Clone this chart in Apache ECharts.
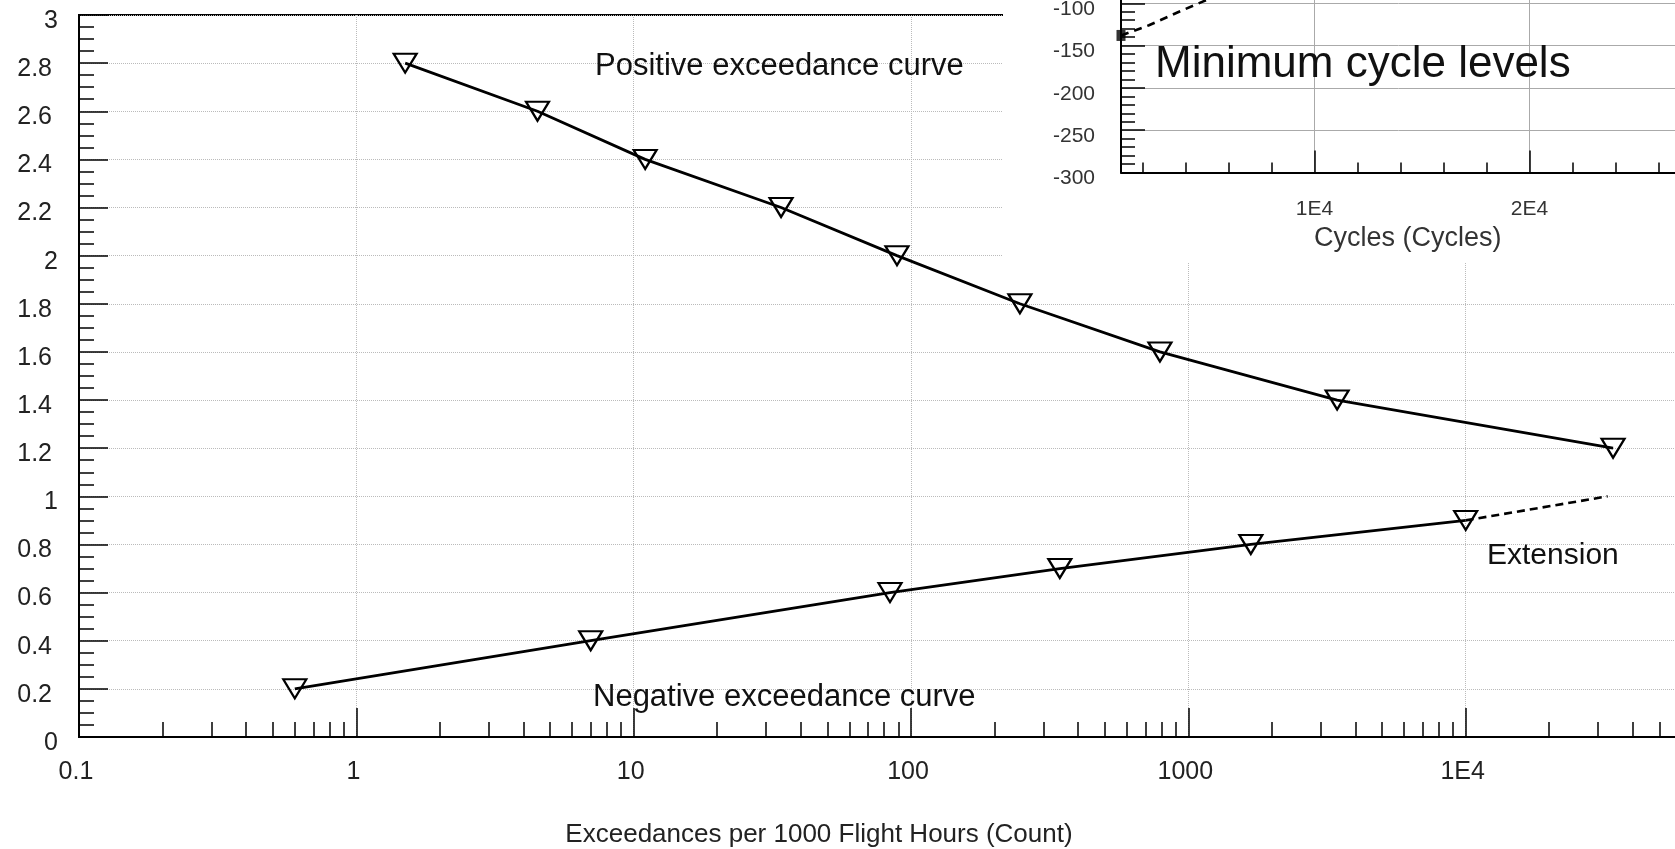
<!DOCTYPE html>
<html><head><meta charset="utf-8">
<script src="https://cdn.jsdelivr.net/npm/echarts@6/dist/echarts.min.js"></script>
<style>html,body{margin:0;padding:0;background:#fff}#c{width:1675px;height:849px}</style>
</head><body><div id="c"></div>
<script>
// ---- data ----
const positiveX = [1.5, 4.5, 11, 34, 89, 247, 790, 3440, 34000];
const positiveY = [2.8, 2.6, 2.4, 2.2, 2.0, 1.8, 1.6, 1.4, 1.2];
const negativeX = [0.6, 7, 84, 344, 1680, 10000];
const negativeY = [0.2, 0.4, 0.6, 0.7, 0.8, 0.9];
const extensionX = [10000, 32500];
const extensionY = [0.9, 1.0];
const insetX = [1000, 2300, 3700, 4800, 6000];
const insetY = [-138, -126, -110, -98, -85];
// ---- tick labels / tick positions ----
const xTickLabels = {'-1':'0.1','0':'1','1':'10','2':'100','3':'1000','4':'1E4','5':'1E5'};
const minorMantissas = [2,3,4,5,6,7,8,9];
const decades = [0.1,1,10,100,1000,10000];
const insetMajorTicks = [10000, 20000];
const insetMinorTicks = [2000,4000,6000,8000,12000,14000,16000,18000,22000,24000,26000,28000];
const insetTickLabels = {10000:'1E4', 20000:'2E4'};

const minorTickValues = [];
decades.forEach(d => minorMantissas.forEach(m => minorTickValues.push(+(d*m).toPrecision(6))));
const zip = (a, b) => a.map((v, i) => [v, b[i]]);
const FONT = "'Liberation Sans', Arial, sans-serif";
const isInt = v => Math.abs(v - Math.round(v)) < 1e-9;
const fmtY = v => String(+v.toFixed(1));

const chart = echarts.init(document.getElementById('c'), null, {renderer:'canvas'});
const hollowTri = {
  symbol: 'triangle', symbolRotate: 180, symbolSize: [23, 19],
  itemStyle: {color: 'rgba(0,0,0,0)', borderColor: '#000', borderWidth: 2.2},
  lineStyle: {color: '#000', width: 2.8}
};
const yLabelBase = {fontSize: 25, color: '#222', fontFamily: FONT, verticalAlign: 'top', lineHeight: 12};
chart.setOption({
  animation: false,
  backgroundColor: '#fff',
  grid: [
    {left: 79, top: 15, width: 1664, height: 722, show: true, borderColor: '#000', borderWidth: 2,
     backgroundColor: 'rgba(0,0,0,0)', containLabel: false, outerBoundsMode: 'none'},
    {left: 1121, top: -39, width: 623.5, height: 211.5, zlevel: 1, containLabel: false, outerBoundsMode: 'none'}
  ],
  xAxis: [
    {type: 'log', logBase: 10, gridIndex: 0, min: 0.1, max: 100000, position: 'bottom',
     axisLine: {show: true, lineStyle: {color: '#000', width: 2}},
     axisTick: {show: true, inside: true, length: 29, lineStyle: {color: '#000', width: 1.5}},
     minorTick: {show: false},
     axisLabel: {show: true, margin: 23, fontSize: 25, color: '#222', fontFamily: FONT, padding: [0, 6, 0, 0],
       formatter: v => xTickLabels[String(Math.round(Math.log10(v)))] || ''},
     splitLine: {show: true, lineStyle: {color: '#bbb', type: 'dotted', width: 1}},
     name: 'Exceedances per 1000 Flight Hours (Count)', nameLocation: 'middle', nameGap: 85,
     nameTextStyle: {fontSize: 26, color: '#222', fontFamily: FONT, padding: [0, 184, 0, 0]}},
    {type: 'log', logBase: 10, gridIndex: 0, min: 0.1, max: 100000, position: 'bottom', offset: 0,
     axisLine: {show: false},
     axisTick: {show: true, inside: true, length: 15, customValues: minorTickValues, lineStyle: {color: '#000', width: 1.5}},
     axisLabel: {show: false}, splitLine: {show: false}},
    {type: 'value', gridIndex: 1, min: 1000, max: 30000, position: 'bottom', zlevel: 1, z: 2,
     axisLine: {show: true, lineStyle: {color: '#000', width: 2}},
     axisTick: {show: true, inside: true, length: 22, customValues: insetMajorTicks, lineStyle: {color: '#000', width: 1.5}},
     axisLabel: {show: true, customValues: insetMajorTicks, margin: 26, fontSize: 21, color: '#333', fontFamily: FONT,
       formatter: v => insetTickLabels[v] || ''},
     splitLine: {show: true, lineStyle: {color: '#aaa', width: 1}},
     name: 'Cycles (Cycles)', nameLocation: 'middle', nameGap: 53,
     nameTextStyle: {fontSize: 27, color: '#333', fontFamily: FONT, padding: [0, 50, 0, 0]}},
    {type: 'value', gridIndex: 1, min: 1000, max: 30000, position: 'bottom', offset: 0, zlevel: 1, z: 2,
     axisLine: {show: false},
     axisTick: {show: true, inside: true, length: 10, customValues: insetMinorTicks, lineStyle: {color: '#000', width: 1.5}},
     axisLabel: {show: false}, splitLine: {show: false}}
  ],
  yAxis: [
    {type: 'value', gridIndex: 0, min: 0, max: 3, interval: 0.2, position: 'left',
     axisLine: {show: true, lineStyle: {color: '#000', width: 2}},
     axisTick: {show: true, inside: true, length: 29, lineStyle: {color: '#000', width: 1.5}},
     minorTick: {show: true, splitNumber: 4, length: 15, lineStyle: {color: '#000', width: 1.5}},
     axisLabel: Object.assign({margin: 27, formatter: v => isInt(v) ? '' : fmtY(v)}, yLabelBase),
     splitLine: {show: true, lineStyle: {color: '#bbb', type: 'dotted', width: 1}}},
    {type: 'value', gridIndex: 1, min: -300, max: -50, interval: 50, zlevel: 1, z: 2, position: 'left',
     axisLine: {show: true, lineStyle: {color: '#000', width: 2}},
     axisTick: {show: true, inside: true, length: 24, lineStyle: {color: '#000', width: 1.5}},
     minorTick: {show: true, splitNumber: 5, length: 14, lineStyle: {color: '#000', width: 1.5}},
     axisLabel: {margin: 26, fontSize: 21, color: '#333', fontFamily: FONT, verticalAlign: 'top', lineHeight: 12},
     splitLine: {show: true, lineStyle: {color: '#aaa', width: 1}}},
    {type: 'value', gridIndex: 0, min: 0, max: 3, interval: 0.2, position: 'left', offset: 0,
     axisLine: {show: false}, axisTick: {show: false}, minorTick: {show: false}, splitLine: {show: false},
     axisLabel: Object.assign({margin: 21, formatter: v => isInt(v) ? fmtY(v) : ''}, yLabelBase)}
  ],
  series: [
    Object.assign({type: 'line', name: 'Positive', xAxisIndex: 0, yAxisIndex: 0, z: 5,
      data: zip(positiveX, positiveY)}, hollowTri),
    Object.assign({type: 'line', name: 'Negative', xAxisIndex: 0, yAxisIndex: 0, z: 5,
      data: zip(negativeX, negativeY)}, hollowTri),
    {type: 'line', name: 'Extension', xAxisIndex: 0, yAxisIndex: 0, z: 4, symbol: 'none',
     data: zip(extensionX, extensionY), lineStyle: {color: '#000', width: 2.6, type: [8, 5]}},
    {type: 'line', name: 'Minimum', xAxisIndex: 2, yAxisIndex: 1, zlevel: 1, z: 5, symbol: 'none',
     data: zip(insetX, insetY), lineStyle: {color: '#000', width: 2.6, type: [8, 6]}},
    {type: 'scatter', name: 'MinStart', xAxisIndex: 2, yAxisIndex: 1, zlevel: 1, z: 6, symbol: 'rect', symbolSize: [9, 11],
     data: [[insetX[0], insetY[0]]], itemStyle: {color: '#000'}}
  ],
  graphic: [
    {type: 'rect', zlevel: 1, z: -10, shape: {x: 1003, y: 0, width: 700, height: 262}, style: {fill: '#fff'}, silent: true},
    {type: 'text', zlevel: 1, z: 20, x: 1155, y: 65, style: {text: 'Minimum cycle levels', font: '44px ' + FONT, fill: '#111', verticalAlign: 'middle'}},
    {type: 'text', z: 20, x: 595, y: 66, style: {text: 'Positive exceedance curve', font: '31px ' + FONT, fill: '#111', verticalAlign: 'middle'}},
    {type: 'text', z: 20, x: 593, y: 697, style: {text: 'Negative exceedance curve', font: '31px ' + FONT, fill: '#111', verticalAlign: 'middle'}},
    {type: 'text', z: 20, x: 1487, y: 556, style: {text: 'Extension', font: '30px ' + FONT, fill: '#111', verticalAlign: 'middle'}}
  ]
});
</script></body></html>
